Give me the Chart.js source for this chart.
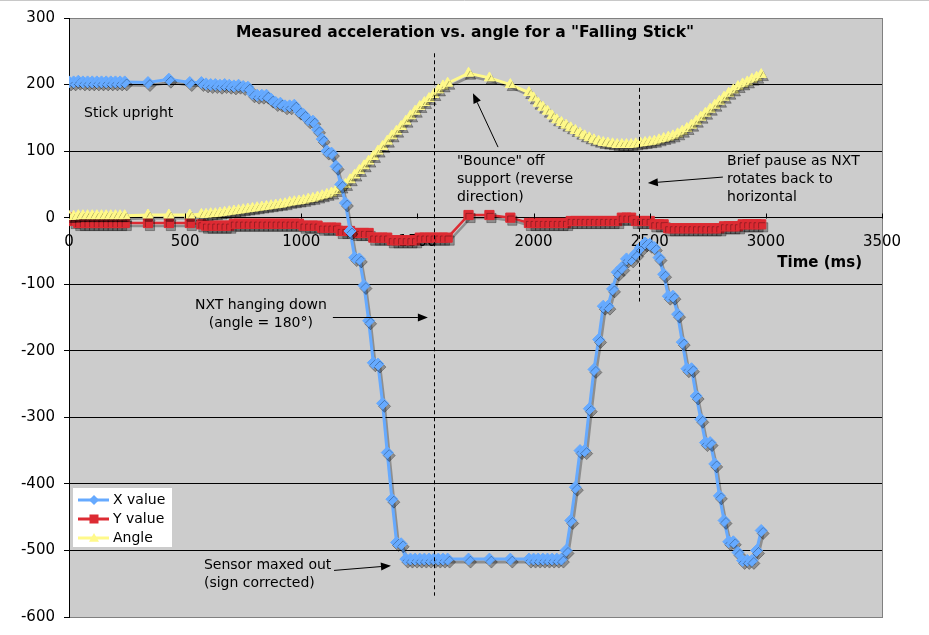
<!DOCTYPE html>
<html><head><meta charset="utf-8">
<script src="https://cdn.jsdelivr.net/npm/chart.js@4/dist/chart.umd.min.js"></script>
<style>html,body{margin:0;padding:0;background:#fff;overflow:hidden}#wrap{width:929px;height:635px;position:relative}</style>
</head><body><div id="wrap"><canvas id="c" width="929" height="635"></canvas></div>
<script>
// ---- data (time in ms) ----
const timeMs = [
  0,20,40,60,80,100,120,140,160,180,200,220,240,
  340,430,520,
  570,590,610,630,650,670,690,710,730,750,
  770,790,810,830,850,870,890,910,930,950,
  970,990,1010,1030,1050,1070,1090,1110,1130,1150,
  1170,1190,1210,1230,1250,1270,1290,1310,1330,1350,
  1370,1390,1410,1430,1450,1470,1490,1510,1530,1550,
  1570,1590,1610,1630,
  1720,1810,1900,
  1980,2000,2020,2040,2060,2080,2100,2120,2140,2160,
  2180,2200,2220,2240,2260,2280,2300,2320,2340,2360,
  2380,2400,2420,2440,2460,2480,2500,2520,2540,2560,
  2580,2600,2620,2640,2660,2680,2700,2720,2740,2760,
  2780,2800,2820,2840,2860,2880,2900,2920,2940,2960,
  2980
];
const xValue = [
  204,204,205,204,204,204,204,204,204,204,204,204,204,
  203,208,203,
  203,201,200,200,199,200,199,198,199,197,
  196,186,184,184,184,178,173,172,168,168,
  169,160,155,147,145,132,118,100,97,77,
  50,22,-20,-60,-62,-102,-155,-218,-220,-279,
  -353,-423,-488,-490,-513,-513,-513,-513,-513,-513,
  -513,-513,-513,-513,
  -513,-513,-513,
  -513,-513,-513,-513,-513,-513,-513,-513,-500,-455,
  -405,-350,-350,-287,-228,-183,-133,-133,-107,-82,
  -75,-62,-62,-54,-45,-38,-40,-45,-60,-85,
  -118,-118,-145,-187,-227,-227,-268,-303,-338,-338,
  -370,-418,-455,-487,-487,-503,-515,-515,-515,-500,
  -470
];
const yValue = [
  0,-5,-8,-8,-8,-8,-8,-8,-8,-8,-8,-8,-8,
  -8,-8,-8,
  -10,-12,-12,-12,-12,-12,-12,-9,-9,-9,
  -9,-9,-9,-9,-9,-9,-9,-9,-9,-9,
  -9,-9,-12,-12,-12,-12,-15,-15,-15,-15,
  -20,-20,-20,-23,-23,-23,-23,-30,-30,-30,
  -30,-34,-34,-34,-34,-34,-34,-30,-30,-30,
  -30,-30,-30,-30,
  4,4,0,
  -8,-8,-8,-8,-8,-8,-8,-8,-8,-5,
  -5,-5,-5,-5,-5,-5,-5,-5,-5,-5,
  0,0,0,-5,-5,-5,-5,-10,-10,-10,
  -16,-16,-16,-16,-16,-16,-16,-16,-16,-16,
  -16,-16,-13,-13,-13,-13,-10,-10,-10,-10,
  -10
];
const angleValue = [
  2,2,3,3,3,3,3,3,3,3,3,3,3,
  4,4,4,
  5,5,6,6,7,8,9,10,11,12,
  13,14,15,16,17,18,19,20,21,23,
  24,25,26,28,29,31,33,35,37,41,
  46,50,57,64,71,78,85,92,100,107,
  115,123,130,137,145,153,160,167,173,179,
  185,192,198,202,
  217,210,200,
  188,180,172,166,160,153,147,143,139,135,
  131,127,123,120,117,115,113,112,111,110,
  110,110,110,111,112,113,114,115,117,119,
  121,123,126,130,134,139,145,151,157,163,
  169,175,181,187,192,197,201,204,208,211,
  215
];
const seriesNames = ['X value','Y value','Angle'];
const chartTitle = 'Measured acceleration vs. angle for a "Falling Stick"';
const xAxisTitle = 'Time (ms)';

// ---- annotations (in data coordinates) ----
const noteTexts = [
  {t:65, v:157, lines:['Stick upright'], align:'left'},
  {t:1670, v:84, lines:['"Bounce" off','support (reverse','direction)'], align:'left'},
  {t:2833, v:84, lines:['Brief pause as NXT','rotates back to','horizontal'], align:'left'},
  {t:826, v:-132, lines:['NXT hanging down','(angle = 180°)'], align:'center'},
  {t:581, v:-522, lines:['Sensor maxed out','(sign corrected)'], align:'left'}
];
const arrows = [
  {t1:1847, v1:106, t2:1739, v2:187},
  {t1:2815, v1:61, t2:2492, v2:52},
  {t1:1136, v1:-150, t2:1545, v2:-150},
  {t1:1141, v1:-530, t2:1386, v2:-523}
];
const dashLines = [
  {t:1571, from:247, to:-568},
  {t:2454, from:195, to:-126}
];

const FONT = 'DejaVu Sans';
const colors = ['#66aaff','#dd2b33','#fff98a'];
const styles = ['rectRot','rect','triangle'];

function drawMarker(ctx, style, x, y, r, color){
  ctx.fillStyle = color; ctx.beginPath();
  if (style==='rectRot'){ ctx.moveTo(x, y-r); ctx.lineTo(x+r, y); ctx.lineTo(x, y+r); ctx.lineTo(x-r, y); }
  else if (style==='rect'){ ctx.rect(x-r, y-r, 2*r, 2*r); }
  else { ctx.moveTo(x, y-r); ctx.lineTo(x+r, y+r*0.75); ctx.lineTo(x-r, y+r*0.75); }
  ctx.closePath(); ctx.fill();
}

const bgPlugin = {
  id:'bg',
  beforeDraw(chart){
    const {ctx, chartArea:a} = chart;
    ctx.save();
    ctx.fillStyle='#fff'; ctx.fillRect(0,0,chart.width,chart.height);
    ctx.strokeStyle='#c8c8c8'; ctx.lineWidth=1;
    ctx.beginPath(); ctx.moveTo(0,0.5); ctx.lineTo(chart.width,0.5); ctx.stroke();
    ctx.fillStyle='#cccccc'; ctx.fillRect(a.left,a.top,a.right-a.left,a.bottom-a.top);
    ctx.restore();
  },
  beforeDatasetsDraw(chart){
    const {ctx, chartArea:a} = chart;
    ctx.save(); ctx.strokeStyle='#808080'; ctx.lineWidth=1;
    ctx.beginPath(); ctx.moveTo(a.right+0.5,a.top); ctx.lineTo(a.right+0.5,a.bottom+1); ctx.stroke();
    ctx.restore();
  }
};
const shadowPlugin = {
  id:'shadow',
  beforeDatasetDraw(chart){ const c=chart.ctx; c.save(); c.shadowColor='rgba(0,0,0,0.3)'; c.shadowOffsetX=2; c.shadowOffsetY=3; c.shadowBlur=0; },
  afterDatasetDraw(chart){ chart.ctx.restore(); }
};
const annotPlugin = {
  id:'annot',
  afterDatasetsDraw(chart){
    const {ctx, chartArea:a, scales:{x, y}} = chart;
    const X = v=>x.getPixelForValue(v), Y = v=>y.getPixelForValue(v);
    ctx.save();
    ctx.strokeStyle='#000'; ctx.lineWidth=1;
    const y0 = Math.round(Y(0))+0.5;
    x.ticks.forEach(tk=>{ const px=Math.round(X(tk.value))+0.5; ctx.beginPath(); ctx.moveTo(px,y0); ctx.lineTo(px,y0-5); ctx.stroke(); });
    ctx.setLineDash([4,3]);
    dashLines.forEach(d=>{ const px=Math.round(X(d.t))+0.5; ctx.beginPath(); ctx.moveTo(px,Y(d.from)); ctx.lineTo(px,Y(d.to)); ctx.stroke(); });
    ctx.setLineDash([]);
    arrows.forEach(ar=>{
      const x1=X(ar.t1), y1=Y(ar.v1), x2=X(ar.t2), y2=Y(ar.v2);
      const ang=Math.atan2(y2-y1,x2-x1), L=10, W=4;
      const bx=x2-L*Math.cos(ang), by=y2-L*Math.sin(ang);
      ctx.beginPath(); ctx.moveTo(x1,y1); ctx.lineTo(bx,by); ctx.stroke();
      ctx.fillStyle='#000'; ctx.beginPath(); ctx.moveTo(x2,y2);
      ctx.lineTo(bx+W*Math.sin(ang), by-W*Math.cos(ang));
      ctx.lineTo(bx-W*Math.sin(ang), by+W*Math.cos(ang)); ctx.closePath(); ctx.fill();
    });
    ctx.fillStyle='#000'; ctx.textBaseline='middle'; ctx.font='14px "'+FONT+'"';
    noteTexts.forEach(n=>{
      ctx.textAlign=n.align;
      n.lines.forEach((s,i)=>ctx.fillText(s, X(n.t), Y(n.v)+i*18));
    });
    // title
    ctx.font='bold 15.5px "'+FONT+'"'; ctx.textAlign='center';
    ctx.fillText(chartTitle, X(1705), Y(277.5));
    // axis title
    ctx.font='bold 15px "'+FONT+'"'; ctx.textAlign='right';
    ctx.fillText(xAxisTitle, X(3414), Y(-69));
    // legend
    const lx=a.left+4, ly=488;
    ctx.fillStyle='#fff'; ctx.fillRect(lx,ly,99,59);
    ctx.font='14px "'+FONT+'"'; ctx.textAlign='left';
    seriesNames.forEach((nm,i)=>{
      const yy=ly+12+i*19;
      ctx.strokeStyle=colors[i]; ctx.lineWidth=3;
      ctx.beginPath(); ctx.moveTo(lx+5,yy); ctx.lineTo(lx+36,yy); ctx.stroke();
      drawMarker(ctx, styles[i], lx+21, yy, i===1?4.5:5, colors[i]);
      ctx.fillStyle='#000'; ctx.fillText(nm, lx+40, yy);
    });
    ctx.restore();
  }
};

const mk = vals => timeMs.map((t,i)=>({x:t, y:vals[i]}));
const plain = v => String(v);
new Chart(document.getElementById('c'), {
  type:'line',
  data:{datasets:[
    {label:seriesNames[0], data:mk(xValue), borderColor:colors[0], backgroundColor:colors[0], pointBorderColor:colors[0], pointBackgroundColor:colors[0], pointStyle:'rectRot', pointRadius:6, pointBorderWidth:1, borderWidth:3, tension:0, order:0},
    {label:seriesNames[1], data:mk(yValue), borderColor:colors[1], backgroundColor:colors[1], pointBorderColor:colors[1], pointBackgroundColor:colors[1], pointStyle:'rect', pointRadius:6.5, pointBorderWidth:1, borderWidth:2.5, tension:0, order:2},
    {label:seriesNames[2], data:mk(angleValue), borderColor:colors[2], backgroundColor:colors[2], pointBorderColor:colors[2], pointBackgroundColor:colors[2], pointStyle:'triangle', pointRadius:6, pointBorderWidth:1, borderWidth:3, tension:0, order:1}
  ]},
  options:{
    responsive:false, animation:false, devicePixelRatio:1,
    layout:{padding:{left:0, top:18, right:47, bottom:17}},
    plugins:{legend:{display:false}, tooltip:{enabled:false}, title:{display:false}},
    scales:{
      x:{type:'linear', min:0, max:3500, position:{y:0},
         ticks:{stepSize:500, padding:7, color:'#000', maxRotation:0, font:{family:FONT, size:15}, callback:plain},
         grid:{display:false}, border:{display:true, color:'#000', width:1}},
      y:{type:'linear', min:-600, max:300,
         ticks:{stepSize:100, padding:9, color:'#000', font:{family:FONT, size:15}, callback:plain},
         grid:{color:c=> (c.tick && (c.tick.value===300 || c.tick.value===-600)) ? '#808080' : '#000', tickColor:'#000', tickLength:5, lineWidth:1},
         border:{display:true, color:'#000', width:1},
         afterFit(s){ s.width = 69; }}
    }
  },
  plugins:[bgPlugin, shadowPlugin, annotPlugin]
});
</script></body></html>
